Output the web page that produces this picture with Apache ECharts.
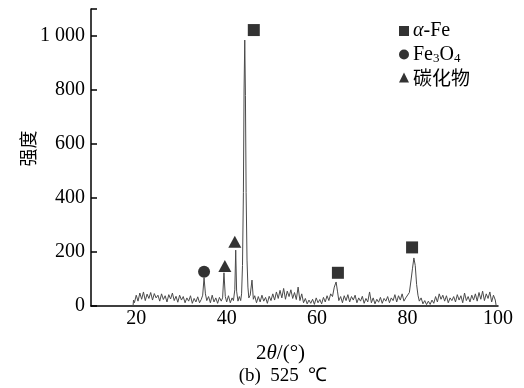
<!DOCTYPE html>
<html>
<head>
<meta charset="utf-8">
<script src="https://cdn.jsdelivr.net/npm/echarts@6/dist/echarts.min.js"></script>
<style>
html,body{margin:0;padding:0;background:#fff;}
#chart{width:524px;height:388px;}
</style>
</head>
<body>
<div id="chart"></div>
<script>
// XRD scan: [2θ (°), intensity]
const scan = [
[19.3,0],[19.4,22],[19.6,12],[20.0,40],[20.4,18],[20.8,48],[21.2,25],[21.6,52],[22.0,20],[22.4,44],
[22.8,28],[23.2,50],[23.6,22],[24.0,46],[24.4,30],[24.8,40],[25.2,18],[25.6,45],[26.0,24],[26.4,38],
[26.8,15],[27.2,42],[27.6,26],[28.0,48],[28.4,20],[28.8,36],[29.2,14],[29.6,40],[30.0,22],[30.4,35],
[30.8,12],[31.2,30],[31.6,18],[32.0,38],[32.4,10],[32.8,28],[33.2,15],[33.6,34],[34.0,12],[34.4,25],
[34.7,40],[35.0,105],[35.3,45],[35.6,20],[36.0,35],[36.4,12],[36.8,40],[37.2,15],[37.6,30],[38.0,10],
[38.4,32],[38.8,18],[39.1,30],[39.4,123],[39.7,35],[40.0,15],[40.4,38],[40.8,12],[41.2,30],[41.5,20],
[41.8,60],[42.0,207],[42.2,55],[42.5,18],[42.8,35],[43.1,20],[43.3,45],[43.5,150],[43.7,420],[43.85,800],
[44.0,985],[44.15,780],[44.3,420],[44.5,170],[44.7,70],[44.9,30],[45.2,40],[45.6,96],[45.9,25],[46.2,38],
[46.6,12],[47.0,35],[47.4,15],[47.8,40],[48.2,18],[48.6,32],[49.0,10],[49.4,36],[49.8,20],[50.2,45],
[50.6,22],[51.0,52],[51.4,28],[51.8,58],[52.2,30],[52.6,65],[53.0,25],[53.4,55],[53.8,35],[54.2,60],
[54.6,28],[55.0,50],[55.4,24],[55.8,70],[56.2,20],[56.6,45],[57.0,12],[57.4,28],[57.8,8],[58.2,22],
[58.6,10],[59.0,25],[59.4,6],[59.8,30],[60.2,12],[60.6,24],[61.0,8],[61.4,32],[61.8,15],[62.2,38],
[62.6,20],[63.0,45],[63.4,35],[63.8,70],[64.2,89],[64.5,55],[64.8,20],[65.2,35],[65.6,12],[66.0,38],
[66.4,20],[66.8,42],[67.2,15],[67.6,35],[68.0,22],[68.4,40],[68.8,12],[69.2,30],[69.6,18],[70.0,36],
[70.4,10],[70.8,28],[71.2,15],[71.6,52],[72.0,12],[72.4,30],[72.8,8],[73.2,25],[73.6,14],[74.0,32],
[74.4,10],[74.8,28],[75.2,18],[75.6,35],[76.0,12],[76.4,30],[76.8,20],[77.2,42],[77.6,15],[78.0,38],
[78.4,22],[78.8,45],[79.2,18],[79.6,30],[80.0,25],[80.4,50],[80.8,100],[81.1,140],[81.4,178],[81.7,150],
[82.0,80],[82.3,40],[82.6,18],[83.0,30],[83.4,8],[83.8,20],[84.2,5],[84.6,18],[85.0,6],[85.4,22],
[85.8,10],[86.2,35],[86.6,15],[87.0,45],[87.4,25],[87.8,40],[88.2,18],[88.6,38],[89.0,12],[89.4,30],
[89.8,20],[90.2,35],[90.6,15],[91.0,42],[91.4,22],[91.8,38],[92.2,12],[92.6,48],[93.0,20],[93.4,35],
[93.8,15],[94.2,40],[94.6,22],[95.0,45],[95.4,18],[95.8,50],[96.2,25],[96.6,55],[97.0,20],[97.4,45],
[97.8,28],[98.2,52],[98.6,15],[99.0,40],[99.4,22],[99.6,0]
];
// phase markers [2θ, intensity]
const alphaFeMarks = [[46.0,1022],[64.6,123],[81.0,217]];
const fe3o4Marks = [[35.0,127]];
const carbideMarks = [[39.6,148],[41.8,238]];
const xTicks = [20,40,60,80,100];
const yTicks = [0,200,400,600,800,1000];

const serif = '"Liberation Serif","DejaVu Serif",serif';
const cjk = '"Noto Sans CJK SC",sans-serif';
const chart = echarts.init(document.getElementById('chart'));
chart.setOption({
  animation:false,
  grid:{left:91,right:26,top:9,bottom:82},
  xAxis:{
    type:'value',min:10,max:100,interval:10,
    axisLine:{lineStyle:{color:'#000',width:1.5}},
    axisTick:{show:false},splitLine:{show:false},
    axisLabel:{color:'#000',fontFamily:serif,fontSize:20,margin:3,
      formatter:v=>xTicks.includes(v)?String(v):''},
    name:'{n|2}{i|θ}{n|/(°)}',nameLocation:'middle',nameGap:37,nameMoveOverlap:false,
    nameTextStyle:{padding:[0,28,0,0],rich:{n:{fontFamily:serif,fontSize:21,color:'#000'},i:{fontFamily:serif,fontSize:21,fontStyle:'italic',color:'#000'}}}
  },
  yAxis:{
    type:'value',min:0,max:1100,interval:200,
    axisLine:{show:true,lineStyle:{color:'#000',width:1.5}},
    axisTick:{show:true,inside:true,length:6,lineStyle:{color:'#000',width:1.5}},
    splitLine:{show:false},
    axisLabel:{color:'#000',fontFamily:serif,fontSize:20,margin:6,
      formatter:v=>yTicks.includes(v)?(v>=1000?String(v).replace(/(\d)(\d{3})$/,'$1 $2'):String(v)):''},
    name:'强度',nameLocation:'middle',nameGap:54,nameMoveOverlap:false,
    nameTextStyle:{fontFamily:cjk,fontSize:18,color:'#000',padding:[0,0,0,18]}
  },
  legend:{
    orient:'vertical',left:394,top:16,itemWidth:10,itemHeight:10,itemGap:3,
    data:['α-Fe','Fe3O4','碳化物'],
    formatter:n=>n==='α-Fe'?'{i|α}{n|-Fe}':n==='Fe3O4'?'{n|Fe}{s|3}{n|O}{s|4}':'{c|碳化物}',
    textStyle:{padding:[0,0,0,-1],rich:{
      n:{fontFamily:serif,fontSize:20,color:'#000',lineHeight:20},
      i:{fontFamily:serif,fontSize:20,fontStyle:'italic',color:'#000',lineHeight:20},
      s:{fontFamily:serif,fontSize:13,color:'#000',padding:[8,0,0,0],lineHeight:20},
      c:{fontFamily:cjk,fontSize:19,color:'#000',lineHeight:20}
    }}
  },
  series:[
    {type:'line',data:scan,showSymbol:false,symbol:'none',lineStyle:{color:'#4a4a4a',width:1},silent:true},
    {name:'α-Fe',type:'scatter',data:alphaFeMarks,symbol:'rect',symbolSize:12,itemStyle:{color:'#000'}},
    {name:'Fe3O4',type:'scatter',data:fe3o4Marks,symbol:'circle',symbolSize:12,itemStyle:{color:'#000'}},
    {name:'碳化物',type:'scatter',data:carbideMarks,symbol:'triangle',symbolSize:[13,12],itemStyle:{color:'#000'}}
  ],
  graphic:[{type:'text',x:283,y:376,style:{text:'(b)  525  ℃',font:'19px "Liberation Serif",serif',fill:'#000',align:'center',verticalAlign:'middle'}}]
});
</script>
</body>
</html>
